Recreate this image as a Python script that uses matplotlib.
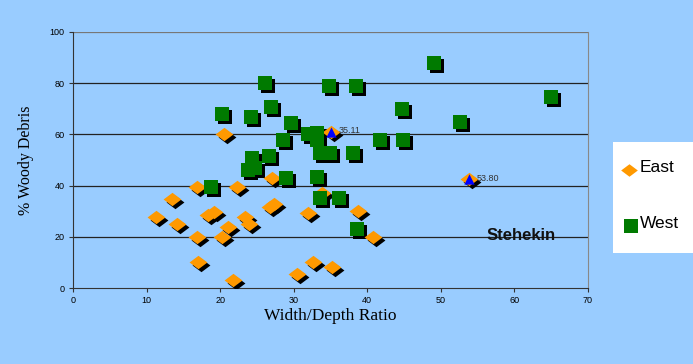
import matplotlib
matplotlib.use("Agg")
import matplotlib.pyplot as plt
from matplotlib.transforms import offset_copy
from matplotlib.patches import Rectangle
from matplotlib.lines import Line2D

# data
east_x = [20.5, 16.8, 22.3, 13.4, 11.3, 14.1, 18.4, 19.1, 21.1, 23.4, 23.9, 16.9, 20.3, 17.0,
          21.7, 26.8, 27.3, 27.1, 33.9, 31.9, 30.4, 32.6, 35.2, 38.8, 40.8, 35.11, 53.80]
east_y = [60.1, 39.6, 39.6, 34.8, 27.7, 25.0, 28.6, 29.5, 24.0, 27.9, 25.1, 19.8, 19.8, 10.1,
          3.0, 31.8, 32.9, 42.9, 37.1, 29.4, 5.3, 10.3, 8.2, 30.0, 20.0, 61.1, 42.4]

west_x = [26.1, 20.3, 24.2, 26.9, 29.6, 32.0, 33.1, 33.2, 28.6, 33.6, 34.9, 38.0, 24.3, 26.7, 23.8,
          24.8, 29.0, 33.1, 18.7, 33.6, 36.2, 34.8, 38.5, 49.1, 65.0, 44.7, 52.6, 41.7, 44.8, 38.6]
west_y = [80.1, 68.0, 66.7, 70.6, 64.4, 60.2, 60.7, 57.9, 57.9, 52.7, 52.7, 52.7, 50.7, 51.6, 45.9,
          46.8, 42.9, 43.4, 39.4, 35.1, 35.1, 79.1, 78.8, 87.9, 74.6, 70.0, 64.8, 58.0, 58.0, 23.1]

# highlighted points with their labels
mark_x = [35.11, 53.80]
mark_y = [61.1, 42.4]
mark_labels = ["35.11", "53.80"]

series_names = ["East", "West"]

bg = "#99CCFF"
orange = "#FF9900"
green = "#007A00"

fig = plt.figure(figsize=(6.93, 3.64), dpi=100, facecolor=bg)
ax = fig.add_axes([73 / 693, 1 - 288 / 364, 515 / 693, 256 / 364])
ax.set_facecolor(bg)

diamond = [(-1, 0), (0, 0.75), (1, 0), (0, -0.75), (-1, 0)]
shadow = offset_copy(ax.transData, fig=fig, x=3, y=-3, units="dots")

# shadows first, then the markers
ax.scatter(east_x, east_y, marker=diamond, s=165, color="black", linewidths=0, transform=shadow, zorder=3)
ax.scatter(west_x, west_y, marker="s", s=108, color="black", linewidths=0, transform=shadow, zorder=3)
ax.scatter(east_x, east_y, marker=diamond, s=165, color=orange, linewidths=0, zorder=4)
ax.scatter(west_x, west_y, marker="s", s=108, color=green, linewidths=0, zorder=4)
ax.scatter(mark_x, mark_y, marker="^", s=55, color="#0000FF", linewidths=0, zorder=5)
for mx, my, lab in zip(mark_x, mark_y, mark_labels):
    ax.text(mx + 1.0, my + 0.5, lab, fontsize=6.5, color="#333333", family="Liberation Sans",
            va="center", ha="left", zorder=6)

ax.text(56.2, 20.6, "Stehekin", fontsize=12, fontweight="bold", family="Liberation Sans",
        va="center", ha="left", color="#111111", zorder=6)

ax.set_xlim(0, 70)
ax.set_ylim(0, 100)
ax.set_xticks(range(0, 71, 10))
ax.set_yticks(range(0, 101, 20))
ax.tick_params(labelsize=6.5, length=3, width=0.8, color="#333333", pad=3)
for lab in ax.get_xticklabels() + ax.get_yticklabels():
    lab.set_family("Liberation Sans")

for y in [20, 40, 60, 80]:
    ax.axhline(y, color="#222222", lw=0.9, zorder=1)
ax.axhline(100, color="#777777", lw=0.9, zorder=1)
ax.spines["top"].set_visible(False)
ax.spines["right"].set_color("#888888")
ax.spines["left"].set_color("#333333")
ax.spines["bottom"].set_color("#333333")

ax.set_xlabel("Width/Depth Ratio", family="Liberation Serif", fontsize=12.5, labelpad=2)
ax.set_ylabel("% Woody Debris", family="Liberation Serif", fontsize=11.5, labelpad=11)

# legend box drawn by hand, in figure pixels
W, H = 693, 364
fig.add_artist(Rectangle((613 / W, 1 - 253 / H), 80 / W, 111 / H, transform=fig.transFigure,
                         facecolor="white", edgecolor="none"))
fig.add_artist(Line2D([629 / W], [1 - 170 / H], transform=fig.transFigure, marker=diamond,
                      markersize=12, color=orange, markeredgewidth=0, linestyle="none"))
fig.add_artist(Line2D([631 / W], [1 - 226 / H], transform=fig.transFigure, marker="s",
                      markersize=9.5, color=green, markeredgewidth=0, linestyle="none"))
fig.text(640 / W, 1 - 168 / H, series_names[0], fontsize=12.5, family="Liberation Sans", va="center")
fig.text(640 / W, 1 - 223 / H, series_names[1], fontsize=12.5, family="Liberation Sans", va="center")

fig.savefig("out.png", dpi=100, facecolor=bg)
